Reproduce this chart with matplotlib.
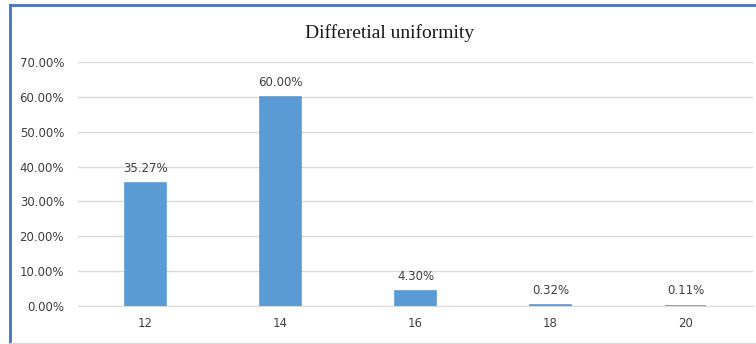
import matplotlib
matplotlib.use("Agg")
import matplotlib.pyplot as plt
from matplotlib.lines import Line2D
from matplotlib.ticker import FuncFormatter

categories = ["12", "14", "16", "18", "20"]
values = [35.27, 60.00, 4.30, 0.32, 0.11]
value_labels = ["35.27%", "60.00%", "4.30%", "0.32%", "0.11%"]
yticks = [0, 10, 20, 30, 40, 50, 60, 70]

W, H = 756, 344
fig = plt.figure(figsize=(W / 100, H / 100), dpi=100)
ax = fig.add_axes([78 / W, 1 - 306 / H, (753 - 78) / W, (306 - 62) / H])
ax.set_axisbelow(True)

x = range(len(categories))
ax.bar(x, values, width=0.31, color="#5b9bd5", edgecolor="#5b9bd5",
       linewidth=1.2, zorder=3)
for i, (v, lab) in enumerate(zip(values, value_labels)):
    ax.annotate(lab, (i, v), xytext=(0, 6), textcoords="offset points",
                ha="center", va="bottom", fontsize=8.5, color="#404040")

ax.set_xlim(-0.5, len(categories) - 0.5)
ax.set_ylim(0, 70)
ax.set_yticks(yticks)
ax.yaxis.set_major_formatter(FuncFormatter(lambda v, p: f"{v:.2f}%"))
ax.set_xticks(list(x))
ax.set_xticklabels(categories)
ax.tick_params(length=0, labelsize=8.5, labelcolor="#404040")
ax.tick_params(axis="y", pad=10)
ax.tick_params(axis="x", pad=8)
ax.grid(axis="y", color="#d9d9d9", linewidth=1)
for s in ["top", "right", "left"]:
    ax.spines[s].set_visible(False)
ax.spines["bottom"].set_color("#d9d9d9")
ax.spines["bottom"].set_zorder(1)

fig.text(390 / W, 1 - 33 / H, "Differetial uniformity", ha="center", va="center",
         fontsize=14, family="Liberation Serif", color="#1a1a1a")

# blue frame on top and left, light line at bottom
fig.add_artist(Line2D([10 / W, 1], [1 - 5 / H, 1 - 5 / H], color="#4472c4", linewidth=2))
fig.add_artist(Line2D([10 / W, 10 / W], [0, 1 - 5 / H], color="#4472c4", linewidth=2))
fig.add_artist(Line2D([10 / W, 1], [1 / H, 1 / H], color="#d9d9d9", linewidth=1))

fig.savefig("out.png", dpi=100)
